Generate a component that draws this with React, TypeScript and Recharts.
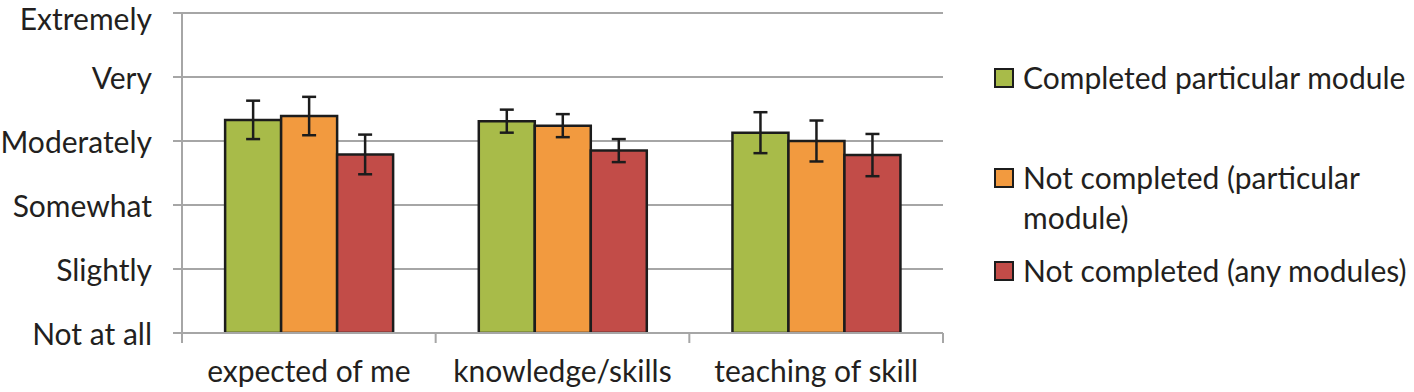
import React from "react";
import { BarChart, Bar, XAxis, YAxis, CartesianGrid, ErrorBar } from "recharts";

const categories = ["expected of me", "knowledge/skills", "teaching of skill"];
const seriesNames = ["Completed particular module", "Not completed (particular module)", "Not completed (any modules)"];
const seriesColors = ["#A8BB49", "#F29A3F", "#C24C48"];
const completedParticular = [4.33, 4.31, 4.13];
const completedParticularErr = [0.3, 0.18, 0.32];
const notCompletedParticular = [4.39, 4.24, 4.0];
const notCompletedParticularErr = [0.3, 0.18, 0.32];
const notCompletedAny = [3.79, 3.85, 3.78];
const notCompletedAnyErr = [0.31, 0.18, 0.33];
const yTickValues = [1, 2, 3, 4, 5, 6];
const yTickLabels = ["Not at all", "Slightly", "Somewhat", "Moderately", "Very", "Extremely"];

const data = categories.map((c, i) => ({
  name: c,
  s0: completedParticular[i],
  e0: completedParticularErr[i],
  s1: notCompletedParticular[i],
  e1: notCompletedParticularErr[i],
  s2: notCompletedAny[i],
  e2: notCompletedAnyErr[i],
}));

const FONT = "Lato, 'Open Sans', sans-serif";
const TEXT = "#231F20";
const GRID = "#A6A6A6";
const FS = 30;

const XTick = (props: any) => {
  const { x, y, payload, index } = props;
  const half = payload && payload.offset ? payload.offset : 0;
  return (
    <g>
      {index === 0 && (
        <line x1={x - half} x2={x - half} y1={y} y2={y + 10} stroke={GRID} strokeWidth={2} />
      )}
      <line x1={x + half} x2={x + half} y1={y} y2={y + 10} stroke={GRID} strokeWidth={2} />
      <text x={x} y={y + 49} textAnchor="middle" fill={TEXT} fontFamily={FONT} fontSize={FS}>
        {payload.value}
      </text>
    </g>
  );
};

const YTick = (props: any) => {
  const { x, y, payload } = props;
  const label = yTickLabels[yTickValues.indexOf(payload.value)];
  return (
    <text x={x} y={y} dy={payload.value === 6 ? 5 : 0} textAnchor="end" dominantBaseline="central" fill={TEXT} fontFamily={FONT} fontSize={FS}>
      {label}
    </text>
  );
};

const legendTops = [57, 157, 250];

export default function App() {
  return (
    <div style={{ position: "absolute", left: 0, top: 0, width: 1414, height: 392, background: "#fff", overflow: "hidden" }}>
      <BarChart
        width={1414}
        height={392}
        data={data}
        margin={{ top: 13, right: 471, bottom: 0, left: 0 }}
        barCategoryGap="17%"
        barGap={0}
      >
        <CartesianGrid vertical={false} stroke={GRID} strokeWidth={2} />
        <XAxis
          dataKey="name"
          height={59}
          axisLine={{ stroke: GRID, strokeWidth: 2 }}
          tickLine={false}
          tickSize={0}
          tickMargin={0}
          tick={<XTick />}
          interval={0}
        />
        <YAxis
          type="number"
          domain={[1, 6]}
          ticks={yTickValues}
          width={182}
          axisLine={{ stroke: GRID, strokeWidth: 2 }}
          tickLine={{ stroke: GRID, strokeWidth: 2 }}
          tickSize={9}
          tickMargin={21}
          tick={<YTick />}
          allowDataOverflow
        />
        {[0, 1, 2].map((k) => (
          <Bar
            key={k}
            dataKey={`s${k}`}
            name={seriesNames[k]}
            fill={seriesColors[k]}
            stroke="#1C1C1C"
            strokeWidth={2.5}
            isAnimationActive={false}
          >
            <ErrorBar dataKey={`e${k}`} width={7} stroke="#1C1C1C" strokeWidth={2.5} direction="y" />
          </Bar>
        ))}
      </BarChart>
      {seriesNames.map((n, k) => (
        <div
          key={k}
          style={{
            position: "absolute",
            left: 994,
            top: legendTops[k],
            width: 420,
            display: "flex",
            alignItems: "flex-start",
            fontFamily: FONT,
            fontSize: FS,
            lineHeight: "40px",
            color: TEXT,
          }}
        >
          <div
            style={{
              width: 16,
              height: 16,
              marginTop: 11,
              border: "2px solid #1C1C1C",
              background: seriesColors[k],
              flex: "none",
            }}
          />
          <div style={{ marginLeft: 9, width: 390 }}>{n}</div>
        </div>
      ))}
    </div>
  );
}
